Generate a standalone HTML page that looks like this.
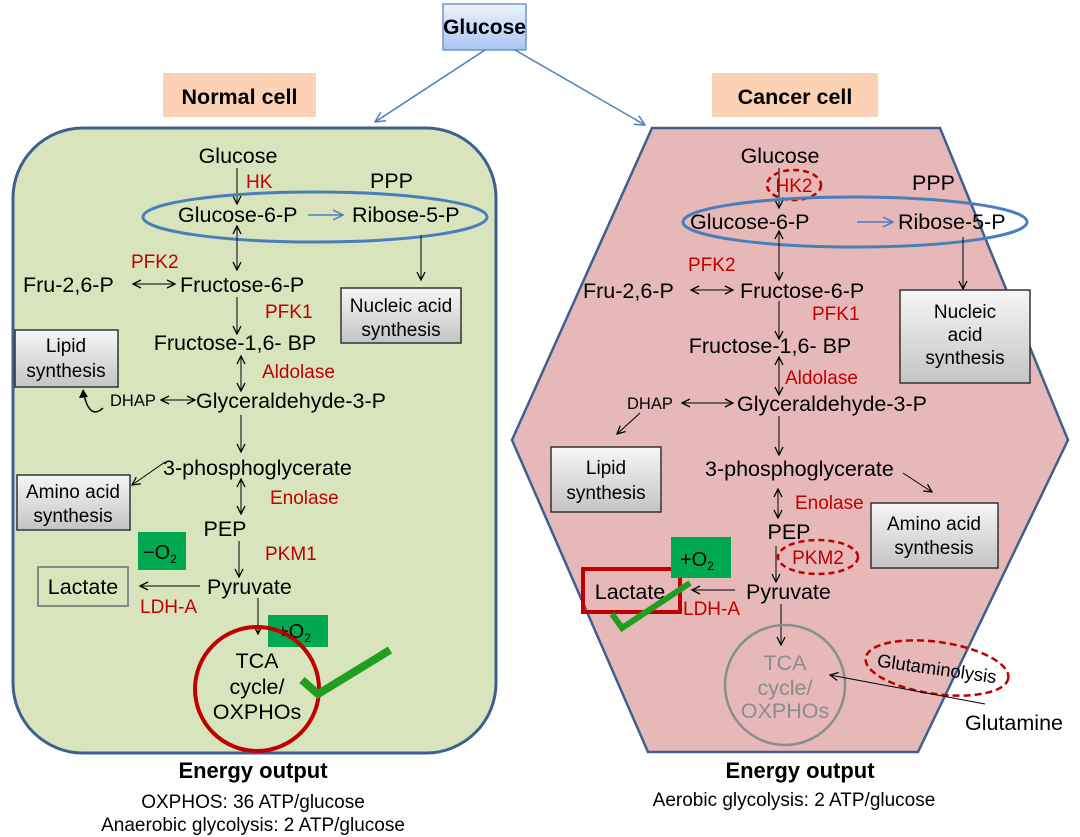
<!DOCTYPE html>
<html><head><meta charset="utf-8"><style>
html,body{margin:0;padding:0;background:#fff}
svg{display:block}
text{font-family:"Liberation Sans",Arial,sans-serif}
.m{font-size:21.5px;fill:#000}
.r{font-size:19px;fill:#c00000}
.b{font-size:19px;fill:#000}
</style></head><body>
<svg width="1080" height="837" viewBox="0 0 1080 837" xmlns="http://www.w3.org/2000/svg">
<defs>
<linearGradient id="gb" x1="0" y1="0" x2="0" y2="1"><stop offset="0" stop-color="#eef4fd"/><stop offset="1" stop-color="#a9c6f0"/></linearGradient>
<linearGradient id="gg" x1="0" y1="0" x2="0" y2="1"><stop offset="0" stop-color="#f6f6f6"/><stop offset="1" stop-color="#c4c4c4"/></linearGradient>
<marker id="a" markerWidth="10" markerHeight="10" refX="9" refY="5" orient="auto-start-reverse" markerUnits="userSpaceOnUse"><path d="M1,1 L9,5 L1,9" fill="none" stroke="#000" stroke-width="1.3"/></marker>
<marker id="ab" markerWidth="12" markerHeight="12" refX="11" refY="6" orient="auto" markerUnits="userSpaceOnUse"><path d="M1,1 L11,6 L1,11" fill="none" stroke="#4a7ebb" stroke-width="1.5"/></marker>
</defs>

<rect x="443" y="4" width="83" height="46" fill="url(#gb)" stroke="#6e95cc" stroke-width="1.5"/>
<text x="484.5" y="34" text-anchor="middle" font-size="21" font-weight="bold">Glucose</text>
<line x1="485" y1="50" x2="375" y2="122" stroke="#4a7ebb" stroke-width="1.5" marker-end="url(#ab)"/>
<line x1="515" y1="50" x2="645" y2="125" stroke="#4a7ebb" stroke-width="1.5" marker-end="url(#ab)"/>

<rect x="163" y="73" width="153" height="44" fill="#fbd2b4"/>
<text x="239.5" y="104" text-anchor="middle" font-size="21.5" font-weight="bold">Normal cell</text>
<rect x="712" y="73" width="166" height="44" fill="#fbd2b4"/>
<text x="795" y="104" text-anchor="middle" font-size="21.5" font-weight="bold">Cancer cell</text>

<!-- normal cell -->
<rect x="13" y="128" width="483" height="625" rx="70" fill="#d8e4bc" stroke="#3e6090" stroke-width="3"/>
<text class="m" x="238" y="163" text-anchor="middle">Glucose</text>
<line x1="237" y1="168" x2="237" y2="204" stroke="#000" marker-end="url(#a)"/>
<text class="r" x="246" y="188">HK</text>
<text class="m" x="370" y="188">PPP</text>
<ellipse cx="315" cy="217" rx="172" ry="25" fill="none" stroke="#4a7ebb" stroke-width="3"/>
<text class="m" x="178" y="222">Glucose-6-P</text>
<line x1="308" y1="215" x2="343" y2="215" stroke="#4a7ebb" stroke-width="1.5" marker-end="url(#ab)"/>
<text class="m" x="352" y="222">Ribose-5-P</text>
<line x1="421" y1="235" x2="421" y2="280" stroke="#000" marker-end="url(#a)"/>
<line x1="237" y1="226" x2="237" y2="270" stroke="#000" marker-start="url(#a)" marker-end="url(#a)"/>
<text class="r" x="131" y="268">PFK2</text>
<text class="m" x="23" y="292">Fru-2,6-P</text>
<line x1="133" y1="284" x2="175" y2="284" stroke="#000" marker-start="url(#a)" marker-end="url(#a)"/>
<text class="m" x="180" y="292">Fructose-6-P</text>
<rect x="341" y="288" width="120" height="55" fill="url(#gg)" stroke="#333" stroke-width="1.5"/>
<text class="b" x="401" y="312" text-anchor="middle">Nucleic acid</text>
<text class="b" x="401" y="336" text-anchor="middle">synthesis</text>
<text class="r" x="265" y="318">PFK1</text>
<line x1="237" y1="297" x2="237" y2="334" stroke="#000" marker-end="url(#a)"/>
<text class="m" x="235" y="350" text-anchor="middle">Fructose-1,6- BP</text>
<rect x="15" y="330" width="103" height="57" fill="url(#gg)" stroke="#333" stroke-width="1.5"/>
<text class="b" x="66" y="352" text-anchor="middle">Lipid</text>
<text class="b" x="66" y="377" text-anchor="middle">synthesis</text>
<line x1="241" y1="356" x2="241" y2="391" stroke="#000" marker-start="url(#a)" marker-end="url(#a)"/>
<text class="r" x="262" y="378">Aldolase</text>
<text x="110" y="406" font-size="16.5">DHAP</text>
<line x1="161" y1="400" x2="195" y2="400" stroke="#000" marker-start="url(#a)" marker-end="url(#a)"/>
<text class="m" x="196" y="408">Glyceraldehyde-3-P</text>
<path d="M103,408 Q90,420 84,395" fill="none" stroke="#000" stroke-width="1.5"/>
<path d="M79,398 L83,389 L88,397 Z" fill="#000"/>
<line x1="241" y1="415" x2="241" y2="452" stroke="#000" marker-end="url(#a)"/>
<text class="m" x="163" y="475">3-phosphoglycerate</text>
<line x1="165" y1="462" x2="132" y2="485" stroke="#000" marker-end="url(#a)"/>
<rect x="17" y="475" width="113" height="55" fill="url(#gg)" stroke="#333" stroke-width="1.5"/>
<text class="b" x="73" y="498" text-anchor="middle">Amino acid</text>
<text class="b" x="73" y="522" text-anchor="middle">synthesis</text>
<line x1="241" y1="479" x2="241" y2="514" stroke="#000" marker-start="url(#a)" marker-end="url(#a)"/>
<text class="r" x="270" y="504">Enolase</text>
<text class="m" x="225" y="536" text-anchor="middle">PEP</text>
<line x1="239" y1="541" x2="239" y2="577" stroke="#000" marker-end="url(#a)"/>
<text class="r" x="265" y="560">PKM1</text>
<rect x="138" y="532" width="48" height="38" fill="#00a84f"/>
<text x="143" y="559" font-size="20">−O<tspan font-size="12" dy="4">2</tspan></text>
<rect x="38" y="567" width="90" height="39" fill="none" stroke="#888" stroke-width="2"/>
<text class="m" x="83" y="594" text-anchor="middle">Lactate</text>
<line x1="200" y1="586" x2="140" y2="586" stroke="#000" marker-end="url(#a)"/>
<text class="m" x="207" y="594">Pyruvate</text>
<text class="r" x="140" y="613">LDH-A</text>
<line x1="258" y1="598" x2="258" y2="634" stroke="#000" marker-end="url(#a)"/>
<rect x="268" y="615" width="60" height="32" fill="#00a84f"/>
<text x="277" y="638" font-size="20">+O<tspan font-size="12" dy="4">2</tspan></text>
<circle cx="257" cy="689" r="62" fill="none" stroke="#c00000" stroke-width="4"/>
<text class="m" x="257" y="668" text-anchor="middle">TCA</text>
<text class="m" x="257" y="694" text-anchor="middle">cycle/</text>
<text class="m" x="257" y="719" text-anchor="middle">OXPHOs</text>
<polyline points="302,680 318,694 390,650" fill="none" stroke="#1f9e1f" stroke-width="8"/>
<text x="253" y="778" text-anchor="middle" font-size="22" font-weight="bold">Energy output</text>
<text x="253" y="808" text-anchor="middle" font-size="19">OXPHOS: 36 ATP/glucose</text>
<text x="253" y="831" text-anchor="middle" font-size="19">Anaerobic glycolysis: 2 ATP/glucose</text>

<!-- cancer cell -->
<polygon points="652,128 940,128 1068,440 918,752 648,752 512,440" fill="#e6b8b7" stroke="#3e6090" stroke-width="2.5"/>
<text class="m" x="780" y="163" text-anchor="middle">Glucose</text>
<line x1="779" y1="168" x2="779" y2="208" stroke="#000" marker-end="url(#a)"/>
<ellipse cx="794" cy="185" rx="27" ry="15" fill="none" stroke="#c00000" stroke-width="2.5" stroke-dasharray="6,4"/>
<text class="r" x="794" y="192" text-anchor="middle">HK2</text>
<text class="m" x="912" y="190">PPP</text>
<ellipse cx="855" cy="222" rx="172" ry="25" fill="none" stroke="#4a7ebb" stroke-width="3"/>
<text class="m" x="690" y="229">Glucose-6-P</text>
<line x1="857" y1="222" x2="893" y2="222" stroke="#4a7ebb" stroke-width="1.5" marker-end="url(#ab)"/>
<text class="m" x="898" y="229">Ribose-5-P</text>
<line x1="963" y1="237" x2="963" y2="289" stroke="#000" marker-end="url(#a)"/>
<rect x="900" y="290" width="130" height="93" fill="url(#gg)" stroke="#333" stroke-width="1.5"/>
<text class="b" x="965" y="318" text-anchor="middle">Nucleic</text>
<text class="b" x="965" y="341" text-anchor="middle">acid</text>
<text class="b" x="965" y="364" text-anchor="middle">synthesis</text>
<line x1="779" y1="231" x2="779" y2="280" stroke="#000" marker-start="url(#a)" marker-end="url(#a)"/>
<text class="r" x="688" y="271">PFK2</text>
<text class="m" x="583" y="298">Fru-2,6-P</text>
<line x1="691" y1="290" x2="733" y2="290" stroke="#000" marker-start="url(#a)" marker-end="url(#a)"/>
<text class="m" x="740" y="298">Fructose-6-P</text>
<text class="r" x="812" y="320">PFK1</text>
<line x1="779" y1="301" x2="779" y2="339" stroke="#000" marker-end="url(#a)"/>
<text class="m" x="770" y="353" text-anchor="middle">Fructose-1,6- BP</text>
<line x1="779" y1="357" x2="779" y2="395" stroke="#000" marker-start="url(#a)" marker-end="url(#a)"/>
<text class="r" x="785" y="384">Aldolase</text>
<text x="627" y="409" font-size="16.5">DHAP</text>
<line x1="682" y1="403" x2="733" y2="403" stroke="#000" marker-start="url(#a)" marker-end="url(#a)"/>
<text class="m" x="737" y="411">Glyceraldehyde-3-P</text>
<line x1="640" y1="413" x2="617" y2="434" stroke="#000" marker-end="url(#a)"/>
<rect x="551" y="447" width="110" height="65" fill="url(#gg)" stroke="#333" stroke-width="1.5"/>
<text class="b" x="606" y="474" text-anchor="middle">Lipid</text>
<text class="b" x="606" y="499" text-anchor="middle">synthesis</text>
<line x1="779" y1="416" x2="779" y2="455" stroke="#000" marker-end="url(#a)"/>
<text class="m" x="705" y="476">3-phosphoglycerate</text>
<line x1="903" y1="473" x2="932" y2="492" stroke="#000" marker-end="url(#a)"/>
<rect x="871" y="503" width="127" height="65" fill="url(#gg)" stroke="#333" stroke-width="1.5"/>
<text class="b" x="934" y="530" text-anchor="middle">Amino acid</text>
<text class="b" x="934" y="554" text-anchor="middle">synthesis</text>
<line x1="778" y1="489" x2="778" y2="518" stroke="#000" marker-start="url(#a)" marker-end="url(#a)"/>
<text class="r" x="795" y="509">Enolase</text>
<text class="m" x="789" y="539" text-anchor="middle">PEP</text>
<line x1="776" y1="546" x2="776" y2="582" stroke="#000" marker-end="url(#a)"/>
<ellipse cx="818" cy="557" rx="40" ry="17" fill="none" stroke="#c00000" stroke-width="2.5" stroke-dasharray="6,4"/>
<text class="r" x="818" y="564" text-anchor="middle">PKM2</text>
<rect x="583" y="569" width="97" height="43" fill="none" stroke="#c00000" stroke-width="4"/>
<text class="m" x="630" y="599" text-anchor="middle">Lactate</text>
<rect x="671" y="537" width="60" height="41" fill="#00a84f"/>
<text x="680" y="566" font-size="20">+O<tspan font-size="12" dy="4">2</tspan></text>
<line x1="735" y1="590" x2="692" y2="590" stroke="#000" marker-end="url(#a)"/>
<text class="m" x="746" y="599">Pyruvate</text>
<text class="r" x="683" y="615">LDH-A</text>
<polyline points="612,614 622,628 690,583" fill="none" stroke="#1f9e1f" stroke-width="6"/>
<line x1="781" y1="604" x2="781" y2="645" stroke="#000" marker-end="url(#a)"/>
<circle cx="785" cy="685" r="60" fill="none" stroke="#8c8c8c" stroke-width="2.5"/>
<text x="785" y="670" text-anchor="middle" font-size="21.5" fill="#8c8c8c">TCA</text>
<text x="785" y="695" text-anchor="middle" font-size="21.5" fill="#8c8c8c">cycle/</text>
<text x="785" y="718" text-anchor="middle" font-size="21.5" fill="#8c8c8c">OXPHOs</text>
<ellipse cx="937" cy="668" rx="72" ry="26" transform="rotate(8 937 668)" fill="none" stroke="#c00000" stroke-width="2.5" stroke-dasharray="7,4"/>
<text x="937" y="675" text-anchor="middle" font-size="18.5" transform="rotate(8 937 668)">Glutaminolysis</text>
<line x1="985" y1="704" x2="830" y2="675" stroke="#000" marker-end="url(#a)"/>
<text class="m" x="965" y="730">Glutamine</text>
<text x="800" y="778" text-anchor="middle" font-size="22" font-weight="bold">Energy output</text>
<text x="794" y="806" text-anchor="middle" font-size="19">Aerobic glycolysis: 2 ATP/glucose</text>
</svg>
</body></html>
